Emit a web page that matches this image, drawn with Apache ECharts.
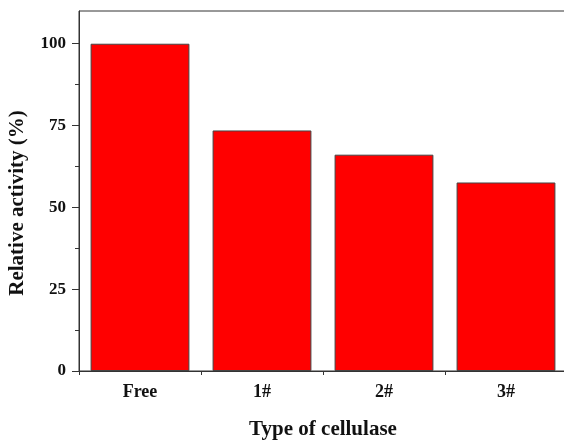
<!DOCTYPE html>
<html>
<head>
<meta charset="utf-8">
<script src="https://cdn.jsdelivr.net/npm/echarts@6/dist/echarts.min.js"></script>
<style>html,body{margin:0;padding:0;background:#fff}#c{width:564px;height:440px}</style>
</head>
<body>
<div id="c"></div>
<script>
const categories = ['Free', '1#', '2#', '3#'];
const activity = [100, 73.5, 66.1, 57.6];
const yTicks = [0, 25, 50, 75, 100];
const yMinorTicks = [12.5, 37.5, 62.5, 87.5];

const font = '"Liberation Serif", "Times New Roman", serif';
const axisColor = '#333';
const chart = echarts.init(document.getElementById('c'), null, {renderer: 'canvas'});
chart.setOption({
  animation: false,
  backgroundColor: '#fff',
  grid: {left: 79, top: 11, width: 488, bottom: 69, show: true, borderColor: axisColor, borderWidth: 1,
         containLabel: false, outerBoundsMode: 'none'},
  xAxis: [
    {
      type: 'category', data: categories, position: 'bottom',
      axisLine: {lineStyle: {color: axisColor, width: 1}},
      axisTick: {alignWithLabel: true, length: 6, lineStyle: {color: axisColor, width: 1}},
      axisLabel: {color: '#111', fontFamily: font, fontWeight: 'bold', fontSize: 18, margin: 12},
      name: 'Type of cellulase', nameLocation: 'middle', nameGap: 48,
      nameTextStyle: {color: '#111', fontFamily: font, fontWeight: 'bold', fontSize: 21}
    },
    {
      type: 'category', data: categories, position: 'bottom', gridIndex: 0,
      axisLine: {show: false},
      axisTick: {show: true, length: 4, lineStyle: {color: axisColor, width: 1}},
      axisLabel: {show: false}
    }
  ],
  yAxis: [
    {
      type: 'value', min: 0, max: 110,
      axisLine: {show: true, lineStyle: {color: axisColor, width: 1}},
      axisTick: {show: true, length: 7, customValues: yTicks, lineStyle: {color: axisColor, width: 1}},
      splitLine: {show: false},
      axisLabel: {color: '#111', fontFamily: font, fontWeight: 'bold', fontSize: 17, margin: 13, customValues: yTicks}
    },
    {
      type: 'value', min: 0, max: 110, position: 'left',
      axisLine: {show: false},
      axisTick: {show: true, length: 4, customValues: yMinorTicks, lineStyle: {color: axisColor, width: 1}},
      splitLine: {show: false},
      axisLabel: {show: false}
    }
  ],
  graphic: [{
    type: 'text', x: 18, y: 203, rotation: Math.PI / 2,
    style: {text: 'Relative activity (%)', fill: '#111', font: 'bold 21px ' + font, align: 'center', verticalAlign: 'middle'}
  }],
  series: [{
    type: 'bar', data: activity, xAxisIndex: 0, yAxisIndex: 0,
    barCategoryGap: '19%',
    itemStyle: {color: '#ff0000', borderColor: '#444', borderWidth: 1}
  }]
});
</script>
</body>
</html>
